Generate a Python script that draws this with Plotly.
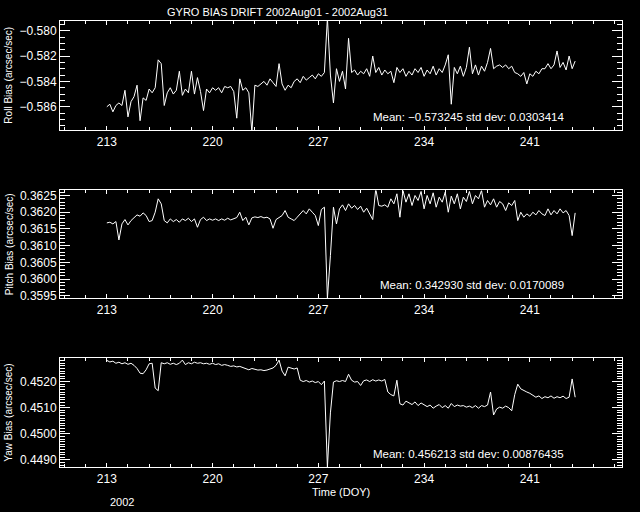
import plotly.graph_objects as go

# Day-of-year sampling (every 0.2 day from DOY 213.0)
start_doy = 213.0
step_doy = 0.2

roll = [
    -0.5860, -0.5858, -0.5864, -0.5859, -0.5857,   # 213
    -0.5859, -0.5847, -0.5868, -0.5856, -0.5852,   # 214
    -0.5843, -0.5871, -0.5853, -0.5855, -0.5846,   # 215
    -0.5849, -0.5845, -0.5823, -0.5826, -0.5859,   # 216
    -0.5849, -0.5845, -0.5850, -0.5847, -0.5832,   # 217
    -0.5851, -0.5846, -0.5849, -0.5832, -0.5850,   # 218
    -0.5837, -0.5848, -0.5863, -0.5846, -0.5849,   # 219
    -0.5845, -0.5847, -0.5845, -0.5849, -0.5844,   # 220
    -0.5845, -0.5844, -0.5848, -0.5869, -0.5838,   # 221
    -0.5847, -0.5845, -0.5849, -0.5880, -0.5843,   # 222
    -0.5844, -0.5842, -0.5840, -0.5843, -0.5838,   # 223
    -0.5841, -0.5844, -0.5826, -0.5842, -0.5847,   # 224
    -0.5843, -0.5845, -0.5840, -0.5838, -0.5841,   # 225
    -0.5836, -0.5839, -0.5837, -0.5835, -0.5838,   # 226
    -0.5834, -0.5836, -0.5833, -0.5790, -0.5835,   # 227
    -0.5857, -0.5830, -0.5840, -0.5832, -0.5846,   # 228
    -0.5806, -0.5833, -0.5831, -0.5835, -0.5832,   # 229
    -0.5834, -0.5830, -0.5836, -0.5820, -0.5833,   # 230
    -0.5829, -0.5835, -0.5831, -0.5834, -0.5832,   # 231
    -0.5841, -0.5829, -0.5833, -0.5830, -0.5836,   # 232
    -0.5832, -0.5835, -0.5830, -0.5833, -0.5829,   # 233
    -0.5836, -0.5831, -0.5834, -0.5828, -0.5835,   # 234
    -0.5830, -0.5833, -0.5827, -0.5819, -0.5858,   # 235
    -0.5829, -0.5834, -0.5828, -0.5836, -0.5829,   # 236
    -0.5813, -0.5834, -0.5827, -0.5835, -0.5828,   # 237
    -0.5832, -0.5825, -0.5814, -0.5830, -0.5828,   # 238
    -0.5827, -0.5829, -0.5827, -0.5830, -0.5828,   # 239
    -0.5833, -0.5834, -0.5836, -0.5833, -0.5842,   # 240
    -0.5834, -0.5836, -0.5832, -0.5834, -0.5830,   # 241
    -0.5830, -0.5826, -0.5830, -0.5827, -0.5816,   # 242
    -0.5829, -0.5825, -0.5831, -0.5820, -0.5830,   # 243
    -0.5824,                                       # 244
]

pitch = [
    0.36168, 0.36170, 0.36165, 0.36172, 0.36117,   # 213
    0.36165, 0.36178, 0.36162, 0.36175, 0.36185,   # 214
    0.36192, 0.36188, 0.36198, 0.36190, 0.36172,   # 215
    0.36175, 0.36200, 0.36240, 0.36225, 0.36175,   # 216
    0.36168, 0.36180, 0.36172, 0.36178, 0.36170,   # 217
    0.36180, 0.36175, 0.36182, 0.36172, 0.36180,   # 218
    0.36155, 0.36178, 0.36185, 0.36175, 0.36180,   # 219
    0.36176, 0.36180, 0.36175, 0.36180, 0.36176,   # 220
    0.36182, 0.36177, 0.36180, 0.36184, 0.36200,   # 221
    0.36175, 0.36185, 0.36162, 0.36183, 0.36186,   # 222
    0.36184, 0.36187, 0.36183, 0.36185, 0.36180,   # 223
    0.36152, 0.36178, 0.36184, 0.36190, 0.36205,   # 224
    0.36185, 0.36180, 0.36175, 0.36185, 0.36196,   # 225
    0.36205, 0.36195, 0.36210, 0.36200, 0.36190,   # 226
    0.36160, 0.36208, 0.36215, 0.35942, 0.36070,   # 227
    0.36215, 0.36165, 0.36210, 0.36222, 0.36205,   # 228
    0.36225, 0.36212, 0.36220, 0.36208, 0.36218,   # 229
    0.36200, 0.36212, 0.36195, 0.36178, 0.36270,   # 230
    0.36220, 0.36218, 0.36222, 0.36215, 0.36240,   # 231
    0.36225, 0.36255, 0.36185, 0.36265, 0.36230,   # 232
    0.36255, 0.36220, 0.36250, 0.36235, 0.36262,   # 233
    0.36210, 0.36250, 0.36225, 0.36258, 0.36215,   # 234
    0.36245, 0.36230, 0.36260, 0.36200, 0.36248,   # 235
    0.36225, 0.36255, 0.36210, 0.36245, 0.36232,   # 236
    0.36262, 0.36225, 0.36250, 0.36240, 0.36265,   # 237
    0.36215, 0.36235, 0.36222, 0.36240, 0.36215,   # 238
    0.36232, 0.36225, 0.36205, 0.36228, 0.36220,   # 239
    0.36235, 0.36175, 0.36200, 0.36185, 0.36195,   # 240
    0.36188, 0.36200, 0.36192, 0.36205, 0.36195,   # 241
    0.36190, 0.36210, 0.36192, 0.36205, 0.36195,   # 242
    0.36210, 0.36198, 0.36205, 0.36190, 0.36130,   # 243
    0.36198,                                       # 244
]

yaw = [
    0.45281, 0.45275, 0.45278, 0.45270, 0.45274,   # 213
    0.45268, 0.45272, 0.45266, 0.45270, 0.45262,   # 214
    0.45250, 0.45232, 0.45230, 0.45245, 0.45268,   # 215
    0.45270, 0.45175, 0.45165, 0.45272, 0.45268,   # 216
    0.45272, 0.45266, 0.45270, 0.45265, 0.45270,   # 217
    0.45282, 0.45265, 0.45272, 0.45268, 0.45274,   # 218
    0.45270, 0.45272, 0.45268, 0.45270, 0.45266,   # 219
    0.45270, 0.45265, 0.45268, 0.45262, 0.45265,   # 220
    0.45262, 0.45258, 0.45260, 0.45256, 0.45258,   # 221
    0.45254, 0.45250, 0.45245, 0.45250, 0.45246,   # 222
    0.45244, 0.45245, 0.45242, 0.45244, 0.45248,   # 223
    0.45252, 0.45262, 0.45282, 0.45240, 0.45222,   # 224
    0.45255, 0.45250, 0.45248, 0.45252, 0.45205,   # 225
    0.45200, 0.45204, 0.45198, 0.45202, 0.45196,   # 226
    0.45200, 0.45188, 0.45202, 0.44872, 0.45080,   # 227
    0.45198, 0.45203, 0.45200, 0.45204, 0.45200,   # 228
    0.45228, 0.45205, 0.45198, 0.45200, 0.45185,   # 229
    0.45203, 0.45206, 0.45200, 0.45207, 0.45202,   # 230
    0.45206, 0.45202, 0.45208, 0.45160, 0.45150,   # 231
    0.45145, 0.45205, 0.45115, 0.45110, 0.45125,   # 232
    0.45118, 0.45112, 0.45122, 0.45108, 0.45118,   # 233
    0.45112, 0.45104, 0.45110, 0.45098, 0.45106,   # 234
    0.45112, 0.45100, 0.45108, 0.45098, 0.45116,   # 235
    0.45104, 0.45110, 0.45106, 0.45108, 0.45102,   # 236
    0.45106, 0.45100, 0.45108, 0.45098, 0.45108,   # 237
    0.45104, 0.45110, 0.45160, 0.45072, 0.45095,   # 238
    0.45102, 0.45098, 0.45106, 0.45100, 0.45088,   # 239
    0.45150, 0.45190, 0.45172, 0.45165, 0.45160,   # 240
    0.45155, 0.45148, 0.45140, 0.45145, 0.45135,   # 241
    0.45142, 0.45138, 0.45145, 0.45136, 0.45142,   # 242
    0.45138, 0.45144, 0.45135, 0.45140, 0.45210,   # 243
    0.45140,                                       # 244
]

title_text = "GYRO BIAS DRIFT 2002Aug01 - 2002Aug31"
y_titles = ["Roll Bias (arcsec/sec)", "Pitch Bias (arcsec/sec)", "Yaw Bias (arcsec/sec)"]
stats_text = [
    "Mean: \u22120.573245 std dev: 0.0303414",
    "Mean: 0.342930 std dev: 0.0170089",
    "Mean: 0.456213 std dev: 0.00876435",
]
x_tick_vals = [213, 220, 227, 234, 241]
x_title = "Time (DOY)"
year_label = "2002"

series = [roll, pitch, yaw]

W, H = 640, 512
FONT = "Liberation Sans, Arial, sans-serif"

def py(p):
    return 1 - p / H

x_dom = [60 / W, 622 / W]
y_doms = [[py(130), py(19)], [py(300), py(190.7)], [py(471), py(360)]]
y_ranges = [[-0.58787, -0.57922], [0.35942, 0.36265], [0.44871, 0.45291]]
y_dticks = [0.002, 0.0005, 0.001]
y_tick0 = [-0.580, 0.3595, 0.4490]
y_minor = [0.0005, 0.0001, 0.0001]
y_fmt = [".3f", ".4f", ".4f"]
stat_y = [116, 286.7, 457]
ytitle_center = [74.5, 245, 415.5]

fig = go.Figure()
for k, vals in enumerate(series):
    doy = [round(start_doy + step_doy * i, 1) for i in range(len(vals))]
    fig.add_trace(go.Scatter(
        x=doy, y=vals, mode="lines",
        line=dict(color="white", width=1),
        xaxis="x" if k == 0 else f"x{k+1}",
        yaxis="y" if k == 0 else f"y{k+1}",
        showlegend=False, hoverinfo="skip",
    ))

layout = dict(
    width=W, height=H,
    margin=dict(l=0, r=0, t=0, b=0),
    paper_bgcolor="black", plot_bgcolor="black",
    font=dict(family=FONT, size=12, color="white"),
    showlegend=False,
)
for k in range(3):
    xs = "xaxis" if k == 0 else f"xaxis{k+1}"
    ys = "yaxis" if k == 0 else f"yaxis{k+1}"
    ya = "y" if k == 0 else f"y{k+1}"
    xa = "x" if k == 0 else f"x{k+1}"
    layout[xs] = dict(
        domain=x_dom, anchor=ya, range=[209.9, 247.1],
        tickmode="array", tickvals=x_tick_vals,
        ticktext=[str(v) for v in x_tick_vals],
        ticks="inside", ticklen=4, tickcolor="white", tickwidth=1,
        minor=dict(tickmode="linear", tick0=213, dtick=1.4, ticks="inside",
                   ticklen=3, tickcolor="white", tickwidth=1, showgrid=False),
        showline=True, linecolor="white", linewidth=1, mirror="ticks",
        showgrid=False, zeroline=False,
        tickfont=dict(family=FONT, size=12, color="white"),
    )
    layout[ys] = dict(
        domain=y_doms[k], anchor=xa, range=y_ranges[k],
        tickmode="linear", tick0=y_tick0[k], dtick=y_dticks[k],
        tickformat=y_fmt[k],
        ticks="inside", ticklen=10, tickcolor="white", tickwidth=1,
        minor=dict(tickmode="linear", tick0=y_tick0[k], dtick=y_minor[k], ticks="inside",
                   ticklen=5, tickcolor="white", tickwidth=1, showgrid=False),
        showline=True, linecolor="white", linewidth=1, mirror="ticks",
        showgrid=False, zeroline=False,
        tickfont=dict(family=FONT, size=12, color="white"),
    )
fig.update_layout(**layout)

annotations = [
    dict(text=title_text, x=277.5 / W, y=py(10), xref="paper", yref="paper",
         xanchor="center", yanchor="middle", showarrow=False,
         font=dict(family=FONT, size=11, color="white")),
    dict(text=x_title, x=341 / W, y=py(496), xref="paper", yref="paper",
         xanchor="center", yanchor="middle", showarrow=False,
         font=dict(family=FONT, size=11, color="white")),
    dict(text=year_label, x=122 / W, y=py(506), xref="paper", yref="paper",
         xanchor="center", yanchor="middle", showarrow=False,
         font=dict(family=FONT, size=11, color="white")),
]
for k in range(3):
    annotations.append(dict(
        text=stats_text[k], x=566 / W, y=py(stat_y[k]), xref="paper", yref="paper",
        xanchor="right", yanchor="middle", showarrow=False,
        font=dict(family=FONT, size=11.5, color="white")))
    annotations.append(dict(
        text=y_titles[k], x=9 / W, y=py(ytitle_center[k]), xref="paper", yref="paper",
        xanchor="center", yanchor="middle", textangle=-90, showarrow=False,
        font=dict(family=FONT, size=10, color="white")))
fig.update_layout(annotations=annotations)

fig.write_html(
    "out.html",
    config={"displayModeBar": False, "staticPlot": True},
    post_script="document.body.style.margin='0';document.body.style.backgroundColor='black';",
)
